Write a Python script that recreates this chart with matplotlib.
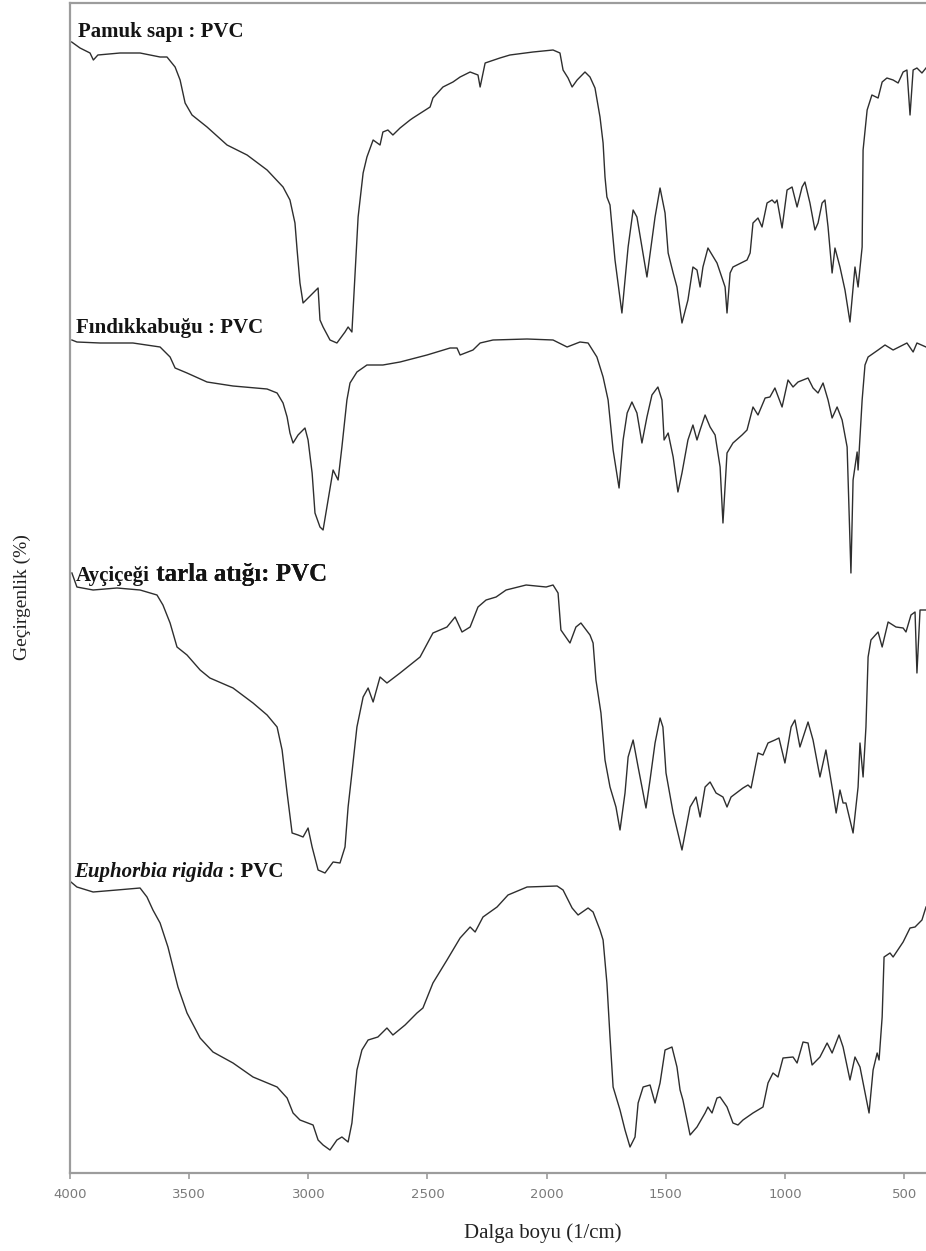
import matplotlib
matplotlib.use("Agg")
import matplotlib.pyplot as plt

# ---------------------------------------------------------------------------
# FTIR spectra of PVC composites (stacked transmittance, arbitrary offset units)
# ---------------------------------------------------------------------------
labels = ["Pamuk sapı : PVC", "Fındıkkabuğu : PVC",
          "Ayçiçeği tarla atığı: PVC", "Euphorbia rigida : PVC"]

pamuk_wn = [3993, 3958, 3916, 3902, 3883, 3790, 3706, 3622, 3593, 3559,
            3538, 3517, 3488, 3425, 3341, 3257, 3173, 3106, 3077, 3056,
            3047, 3035, 3022, 2980, 2959, 2951, 2938, 2909, 2880, 2846,
            2833, 2817, 2791, 2770, 2754, 2728, 2699, 2687, 2666, 2645,
            2615, 2573, 2561, 2489, 2477, 2435, 2393, 2363, 2321, 2288,
            2279, 2258, 2196, 2154, 2057, 1973, 1944, 1931, 1910, 1893,
            1872, 1839, 1818, 1797, 1776, 1763, 1755, 1747, 1734, 1713,
            1684, 1658, 1637, 1621, 1600, 1579, 1545, 1524, 1503, 1490,
            1469, 1453, 1432, 1407, 1386, 1369, 1356, 1344, 1323, 1285,
            1251, 1243, 1230, 1218, 1159, 1146, 1134, 1113, 1096, 1075,
            1054, 1042, 1033, 1012, 991, 970, 949, 928, 916, 895,
            874, 861, 844, 832, 819, 802, 790, 769, 748, 727,
            706, 693, 676, 672, 655, 635, 609, 592, 572, 546,
            525, 504, 488, 475, 462, 446, 425, 408]
pamuk_t = [113.1, 112.5, 112.0, 111.3, 111.8, 112.0, 112.0, 111.6, 111.6, 110.6,
           109.3, 107.0, 105.8, 104.6, 102.8, 101.8, 100.3, 98.6, 97.3, 95.0,
           92.3, 89.0, 87.0, 88.0, 88.5, 85.3, 84.6, 83.3, 83.0, 84.1,
           84.6, 84.1, 95.6, 100.0, 101.6, 103.3, 102.8, 104.1, 104.3, 103.8,
           104.5, 105.3, 105.5, 106.6, 107.5, 108.6, 109.1, 109.6, 110.1, 109.8,
           108.6, 111.0, 111.5, 111.8, 112.1, 112.3, 112.0, 110.3, 109.5, 108.6,
           109.3, 110.1, 109.6, 108.5, 105.6, 103.0, 99.6, 97.6, 96.8, 91.3,
           86.0, 92.6, 96.3, 95.6, 92.6, 89.6, 95.6, 98.5, 96.0, 92.0,
           90.0, 88.6, 85.0, 87.3, 90.6, 90.3, 88.6, 90.6, 92.5, 91.0,
           88.6, 86.0, 90.0, 90.6, 91.3, 92.0, 95.0, 95.5, 94.6, 97.0,
           97.3, 97.0, 97.3, 94.5, 98.3, 98.6, 96.6, 98.6, 99.1, 97.0,
           94.3, 95.0, 97.0, 97.3, 94.6, 90.0, 92.5, 90.6, 88.3, 85.1,
           90.6, 88.6, 92.6, 102.3, 106.3, 107.8, 107.5, 109.1, 109.5, 109.3,
           109.0, 110.1, 110.3, 105.8, 110.3, 110.5, 110.0, 110.5]

findik_wn = [3992, 3971, 3874, 3736, 3622, 3580, 3559, 3509, 3425, 3316,
             3173, 3131, 3106, 3089, 3077, 3064, 3043, 3014, 3001, 2984,
             2972, 2951, 2938, 2917, 2896, 2875, 2859, 2838, 2825, 2796,
             2754, 2687, 2615, 2502, 2405, 2376, 2363, 2309, 2279, 2225,
             2082, 1973, 1914, 1860, 1826, 1789, 1763, 1742, 1721, 1696,
             1679, 1662, 1642, 1621, 1600, 1579, 1558, 1533, 1516, 1507,
             1490, 1469, 1449, 1432, 1407, 1386, 1369, 1356, 1335, 1314,
             1293, 1272, 1260, 1243, 1218, 1180, 1159, 1134, 1113, 1083,
             1063, 1042, 1012, 987, 966, 945, 903, 882, 861, 840,
             819, 802, 781, 760, 739, 723, 714, 697, 693, 676,
             664, 651, 609, 580, 546, 488, 462, 446, 408]
findik_t = [83.3, 83.1, 83.0, 83.0, 82.6, 81.6, 80.5, 80.0, 79.1, 78.7,
            78.4, 78.0, 77.0, 75.6, 74.0, 73.0, 73.8, 74.5, 73.3, 70.0,
            66.0, 64.6, 64.3, 67.3, 70.3, 69.3, 72.6, 77.3, 79.0, 80.1,
            80.8, 80.8, 81.1, 81.8, 82.5, 82.5, 81.8, 82.3, 83.0, 83.3,
            83.4, 83.3, 82.6, 83.1, 83.0, 81.6, 79.6, 77.3, 72.3, 68.5,
            73.3, 76.0, 77.1, 76.0, 73.0, 75.6, 77.8, 78.6, 77.3, 73.3,
            74.0, 71.6, 68.1, 70.0, 73.3, 74.8, 73.3, 74.3, 75.8, 74.6,
            73.8, 70.6, 65.0, 72.0, 73.0, 73.8, 74.3, 76.6, 75.8, 77.5,
            77.6, 78.5, 76.6, 79.3, 78.6, 79.1, 79.5, 78.5, 78.0, 79.0,
            77.3, 75.5, 76.6, 75.3, 72.6, 60.0, 69.3, 72.1, 70.3, 77.3,
            80.8, 81.6, 82.3, 82.8, 82.3, 83.0, 82.1, 83.0, 82.6]

aycicegi_wn = [3992, 3971, 3903, 3803, 3706, 3635, 3610, 3580, 3551, 3509,
               3454, 3413, 3316, 3232, 3173, 3131, 3110, 3089, 3068, 3043,
               3022, 3001, 2984, 2959, 2930, 2896, 2867, 2846, 2833, 2817,
               2796, 2770, 2749, 2728, 2699, 2670, 2615, 2531, 2477, 2418,
               2384, 2355, 2321, 2288, 2254, 2212, 2170, 2086, 2002, 1973,
               1952, 1940, 1902, 1877, 1856, 1818, 1805, 1793, 1772, 1755,
               1734, 1709, 1692, 1671, 1658, 1637, 1616, 1583, 1566, 1545,
               1524, 1512, 1499, 1469, 1432, 1398, 1373, 1356, 1335, 1314,
               1289, 1260, 1243, 1226, 1176, 1155, 1142, 1113, 1092, 1071,
               1042, 1025, 1000, 974, 958, 937, 903, 882, 853, 828,
               798, 785, 769, 756, 744, 714, 693, 685, 672, 660,
               651, 639, 609, 592, 567, 534, 504, 492, 471, 454,
               446, 433, 408]
aycicegi_t = [60.0, 58.6, 58.3, 58.5, 58.3, 57.8, 56.8, 55.0, 52.6, 51.8,
              50.3, 49.5, 48.5, 47.0, 45.8, 44.6, 42.3, 38.0, 34.0, 33.8,
              33.6, 34.5, 32.6, 30.3, 30.0, 31.1, 31.0, 32.6, 36.6, 40.0,
              44.6, 47.6, 48.5, 47.1, 49.6, 49.0, 50.0, 51.6, 54.0, 54.6,
              55.6, 54.1, 54.6, 56.6, 57.3, 57.6, 58.3, 58.8, 58.6, 58.8,
              58.0, 54.3, 53.0, 54.6, 55.0, 53.8, 53.0, 49.3, 46.0, 41.3,
              38.6, 36.6, 34.3, 38.0, 41.6, 43.3, 40.6, 36.5, 39.3, 43.0,
              45.5, 44.6, 40.0, 36.0, 32.3, 36.6, 37.6, 35.6, 38.6, 39.1,
              38.0, 37.6, 36.6, 37.6, 38.5, 38.8, 38.5, 42.0, 41.8, 43.0,
              43.3, 43.5, 41.0, 44.6, 45.3, 42.6, 45.1, 43.3, 39.6, 42.3,
              38.0, 36.0, 38.3, 37.0, 37.0, 34.0, 38.6, 43.0, 39.6, 44.6,
              51.6, 53.3, 54.1, 52.6, 55.1, 54.6, 54.5, 54.1, 55.8, 56.1,
              50.0, 56.3, 56.3]

euphorbia_wn = [3996, 3971, 3903, 3803, 3706, 3677, 3652, 3622, 3589, 3568,
                3547, 3509, 3454, 3400, 3316, 3232, 3131, 3089, 3064, 3035,
                2980, 2959, 2938, 2909, 2880, 2859, 2833, 2817, 2796, 2775,
                2749, 2708, 2670, 2645, 2594, 2544, 2519, 2477, 2418, 2363,
                2321, 2300, 2267, 2208, 2162, 2082, 1956, 1931, 1893, 1868,
                1826, 1805, 1776, 1763, 1747, 1734, 1721, 1692, 1671, 1650,
                1629, 1616, 1595, 1566, 1545, 1524, 1503, 1474, 1453, 1440,
                1428, 1398, 1369, 1335, 1323, 1306, 1285, 1272, 1243, 1218,
                1197, 1176, 1134, 1092, 1071, 1050, 1029, 1008, 966, 949,
                924, 903, 886, 853, 823, 802, 773, 756, 727, 706,
                685, 647, 630, 613, 605, 592, 584, 559, 546, 504,
                475, 454, 425, 408]
euphorbia_t = [29.1, 28.6, 28.1, 28.3, 28.5, 27.6, 26.3, 25.0, 22.6, 20.6,
               18.6, 16.0, 13.5, 12.1, 11.0, 9.6, 8.6, 7.5, 6.0, 5.3,
               4.8, 3.3, 2.8, 2.3, 3.3, 3.6, 3.1, 5.0, 10.3, 12.3,
               13.3, 13.6, 14.5, 13.8, 14.8, 16.0, 16.5, 19.0, 21.3, 23.5,
               24.6, 24.1, 25.6, 26.6, 27.8, 28.6, 28.7, 28.3, 26.5, 25.8,
               26.5, 26.1, 24.3, 23.3, 19.0, 13.6, 8.6, 6.3, 4.3, 2.6,
               3.6, 7.0, 8.6, 8.8, 7.0, 9.0, 12.3, 12.6, 10.6, 8.3,
               7.3, 3.8, 4.6, 6.0, 6.6, 6.0, 7.5, 7.6, 6.6, 5.0,
               4.8, 5.3, 6.0, 6.6, 9.0, 10.0, 9.6, 11.5, 11.6, 11.0,
               13.1, 13.0, 10.8, 11.6, 13.0, 12.0, 13.8, 12.6, 9.3, 11.6,
               10.6, 6.0, 10.3, 12.0, 11.3, 15.6, 21.6, 22.0, 21.6, 23.1,
               24.5, 24.6, 25.3, 26.6]

x_ticks = [4000, 3500, 3000, 2500, 2000, 1500, 1000, 500]
x_ticklabels = ["4000", "3500", "3000", "2500", "2000", "1500", "1000", "500"]

# ---------------------------------------------------------------------------
W, H = 926, 1251
fig = plt.figure(figsize=(W / 100, H / 100), dpi=100)
ax = fig.add_axes([70 / W, 78 / H, (W - 70) / W, 1170 / H])

line_kw = dict(color="#2e2e2e", lw=1.0, solid_joinstyle="round")
for wn, t in [(pamuk_wn, pamuk_t), (findik_wn, findik_t),
              (aycicegi_wn, aycicegi_t), (euphorbia_wn, euphorbia_t)]:
    ax.plot(wn, t, **line_kw)

ax.set_xlim(4000, 408)
ax.set_ylim(0, 117)

spine_col = "#9c9c9c"
for side in ("left", "bottom", "top"):
    ax.spines[side].set_color(spine_col)
    ax.spines[side].set_linewidth(1.6)
ax.spines["right"].set_visible(False)

ax.set_yticks([])
ax.set_xticks(x_ticks)
ax.set_xticklabels(x_ticklabels, family="DejaVu Sans")
ax.tick_params(axis="x", direction="out", length=4, width=1.2,
               color=spine_col, labelcolor="#7a7a7a", labelsize=9.5, pad=7)

serif = ["Liberation Serif", "DejaVu Serif"]
txt_col = "#141414"

fig.text(22 / W, 1 - 597 / H, "Geçirgenlik (%)", rotation=90, family=serif,
         size=14, ha="center", va="center", color="#222222")
fig.text(543 / W, 1 - 1233 / H, "Dalga boyu (1/cm)", family=serif,
         size=15, ha="center", va="center", color="#222222")

# spectrum captions
fig.text(78 / W, 1 - 37 / H, labels[0], family=serif, weight="bold",
         size=15, color=txt_col, va="baseline")
fig.text(76 / W, 1 - 333 / H, labels[1], family=serif, weight="bold",
         size=15, color=txt_col, va="baseline")

t3 = fig.text(76 / W, 1 - 581 / H, "Ayçiçeği", family=serif, weight="bold",
              size=15, color=txt_col, va="baseline")
fig.texts.append(ax.annotate(" tarla atığı: PVC", xy=(1, 0), xycoords=t3,
                             family=serif, weight="bold", size=18,
                             color=txt_col, va="bottom", ha="left",
                             annotation_clip=False))

t4 = fig.text(74 / W, 1 - 877 / H, "Euphorbia rigida", family=serif,
              weight="bold", style="italic", size=15, color=txt_col,
              va="baseline")
ax.annotate(" : PVC", xy=(1, 0), xycoords=t4, family=serif, weight="bold",
            size=15, color=txt_col, va="bottom", ha="left",
            annotation_clip=False)

fig.savefig("out.png", dpi=100)
